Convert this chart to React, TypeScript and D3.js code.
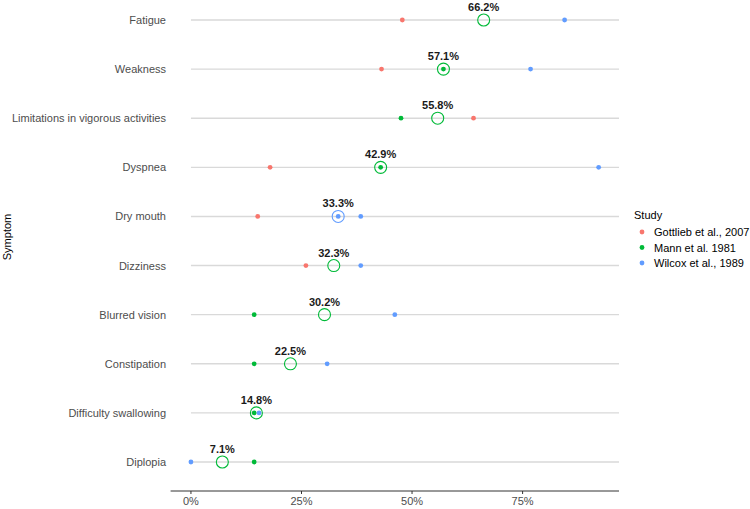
import * as d3 from 'd3';

// symptom rows, top to bottom
const symptoms = [
  'Fatigue',
  'Weakness',
  'Limitations in vigorous activities',
  'Dyspnea',
  'Dry mouth',
  'Dizziness',
  'Blurred vision',
  'Constipation',
  'Difficulty swallowing',
  'Diplopia',
];

// pooled prevalence per symptom (%)
const pooled = [66.2, 57.1, 55.8, 42.9, 33.3, 32.3, 30.2, 22.5, 14.8, 7.1];
// which study colours the pooled ring
const ringStudy = [1, 1, 1, 1, 2, 1, 1, 1, 1, 1];

const studies = ['Gottlieb et al., 2007', 'Mann et al. 1981', 'Wilcox et al., 1989'];
const studyColors = ['#F8766D', '#00BA38', '#619CFF'];

// per-study estimates (%), one list per symptom
const gottlieb: number[][] = [[47.8], [43.1], [63.9], [17.9], [15.1], [26.0], [], [], [], []];
const mann: number[][] = [[], [57.1], [47.5], [42.9], [], [], [14.3], [14.3], [14.3], [14.3]];
const wilcox: number[][] = [[84.5], [76.8], [], [92.2], [33.3, 38.4], [38.4], [46.1], [30.8], [15.4], [0]];

const xTicks = [0, 25, 50, 75];

export default function App() {
  const width = 750;
  const height = 509;
  const panel = { left: 170.6, right: 619, top: 20, bottom: 491 };

  const x = d3.scaleLinear().domain([-4.6, 96.8]).range([panel.left, panel.right]);
  const y = d3.scalePoint<string>().domain(symptoms).range([20, 462]);

  const byStudy = [gottlieb, mann, wilcox];
  const font = '"Liberation Sans", Arial, Helvetica, sans-serif';

  return (
    <svg width={width} height={height} style={{ position: 'absolute', left: 0, top: 0 }} fontFamily={font}>
      <rect width={width} height={height} fill="#fff" />

      {/* row guide lines */}
      {symptoms.map(s => (
        <line key={s} x1={x(0)} x2={panel.right} y1={y(s)} y2={y(s)} stroke="#d9d9d9" strokeWidth={1.4} />
      ))}

      {/* pooled rings */}
      {symptoms.map((s, i) => (
        <circle key={s} cx={x(pooled[i])} cy={y(s)} r={6} fill="none" stroke={studyColors[ringStudy[i]]} strokeWidth={1.1} />
      ))}

      {/* study points */}
      {byStudy.map((vals, k) =>
        symptoms.map((s, i) =>
          vals[i].map((v, j) => (
            <circle key={`${k}-${i}-${j}`} cx={x(v)} cy={y(s)} r={2.4} fill={studyColors[k]} />
          ))
        )
      )}

      {/* pooled value labels */}
      {symptoms.map((s, i) => (
        <text key={s} x={x(pooled[i])} y={y(s)! - 9} textAnchor="middle" fontSize={11} fontWeight="bold" fill="#1a1a1a">
          {pooled[i].toFixed(1)}%
        </text>
      ))}

      {/* y labels */}
      {symptoms.map(s => (
        <text key={s} x={166} y={y(s)! + 4} textAnchor="end" fontSize={11} fill="#4d4d4d">
          {s}
        </text>
      ))}
      <text transform="translate(11,237) rotate(-90)" textAnchor="middle" fontSize={11} fill="#000">
        Symptom
      </text>

      {/* x axis */}
      <line x1={panel.left} x2={panel.right} y1={panel.bottom} y2={panel.bottom} stroke="#333" strokeWidth={1} />
      {xTicks.map(t => (
        <g key={t}>
          <line x1={x(t)} x2={x(t)} y1={panel.bottom} y2={panel.bottom + 3} stroke="#333" />
          <text x={x(t)} y={panel.bottom + 14} textAnchor="middle" fontSize={11} fill="#4d4d4d">
            {t}%
          </text>
        </g>
      ))}

      {/* legend */}
      <text x={634} y={219} fontSize={11} fill="#000">Study</text>
      {studies.map((s, k) => (
        <g key={s} transform={`translate(0,${232 + k * 15.5})`}>
          <circle cx={642} cy={0} r={2.4} fill={studyColors[k]} />
          <text x={654} y={4} fontSize={11} fill="#000">{s}</text>
        </g>
      ))}
    </svg>
  );
}
